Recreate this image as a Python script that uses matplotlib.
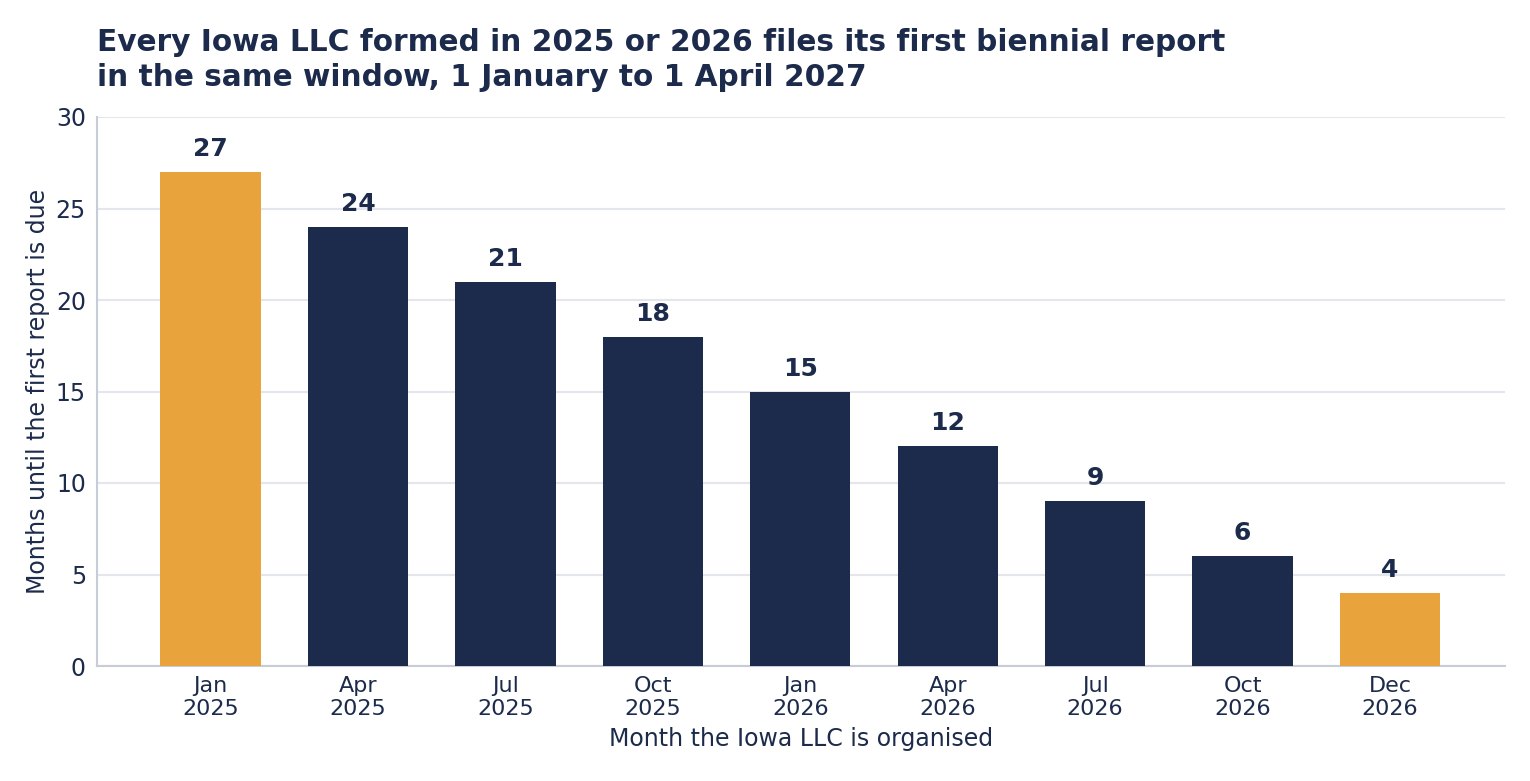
import matplotlib.pyplot as plt
import numpy as np

months = ["Jan\n2025", "Apr\n2025", "Jul\n2025", "Oct\n2025", "Jan\n2026",
          "Apr\n2026", "Jul\n2026", "Oct\n2026", "Dec\n2026"]
months_until_due = [27, 24, 21, 18, 15, 12, 9, 6, 4]
highlight = [True, False, False, False, False, False, False, False, True]

NAVY = "#1c2b4b"
ORANGE = "#e8a33d"
GRID = "#e3e6ea"
SPINE = "#c8ccd6"

fig = plt.figure(figsize=(15.3, 7.81), dpi=100)
ax = fig.add_axes([97 / 1530, 1 - 666 / 781, (1505 - 97) / 1530, (666 - 117) / 781])

pos = np.arange(len(months))
colors = [ORANGE if h else NAVY for h in highlight]
bars = ax.bar(pos, months_until_due, width=0.68, color=colors, zorder=3)

for b, v in zip(bars, months_until_due):
    ax.text(b.get_x() + b.get_width() / 2, v + 0.6, str(v), ha="center",
            va="bottom", fontsize=18, fontweight="bold", color=NAVY)

ax.set_xlim(-0.77, len(months) - 1 + 0.78)
ax.set_ylim(0, 30)
ax.set_yticks([0, 5, 10, 15, 20, 25, 30])
ax.set_xticks(pos)
ax.set_xticklabels(months, fontsize=16, color=NAVY, linespacing=1.2)
ax.tick_params(axis="y", labelsize=17, labelcolor=NAVY, length=0, pad=8)
ax.tick_params(axis="x", length=0, pad=7)
ax.yaxis.grid(True, color=GRID, linewidth=1.5, zorder=0)
ax.set_axisbelow(True)
for side in ["top", "right"]:
    ax.spines[side].set_visible(False)
for side in ["left", "bottom"]:
    ax.spines[side].set_color(SPINE)
    ax.spines[side].set_linewidth(1.5)

ax.set_ylabel("Months until the first report is due", fontsize=17, color=NAVY,
              labelpad=4)
ax.set_xlabel("Month the Iowa LLC is organised", fontsize=17, color=NAVY,
              labelpad=6)

fig.text(97 / 1530, 1 - 28 / 781,
         "Every Iowa LLC formed in 2025 or 2026 files its first biennial report\n"
         "in the same window, 1 January to 1 April 2027",
         fontsize=21.3, fontweight="bold", color=NAVY, ha="left", va="top",
         linespacing=1.25)

fig.savefig("out.png", dpi=100)
